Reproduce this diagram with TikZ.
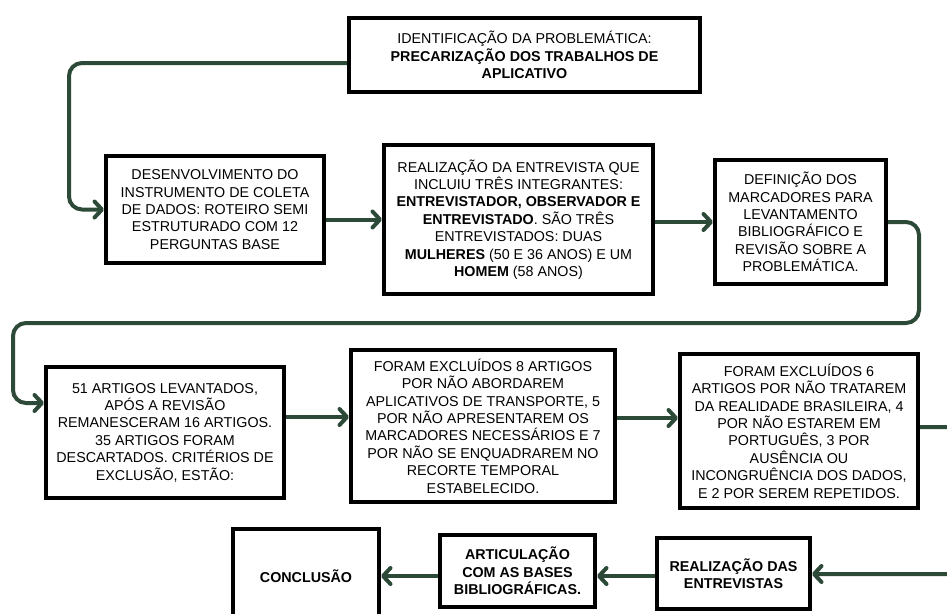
\documentclass[tikz,border=0pt]{standalone}
\usepackage{fontspec}
\setmainfont{Liberation Sans}
\usetikzlibrary{arrows.meta,calc}
\definecolor{conng}{HTML}{2D4A39}
\begin{document}
\begin{tikzpicture}[x=1pt,y=-1pt,
  box/.style={draw=black,line width=4pt,fill=white,align=center,inner sep=0pt,
    font=\fontsize{14.3}{17.4}\selectfont},
  conn/.style={draw=conng,line width=4pt,rounded corners=13pt,
    -{Straight Barb[length=7.5pt,width=16pt,line cap=round,line join=round]}}]
\useasboundingbox (0,0) rectangle (947,613);
\fill[white] (0,0) rectangle (947,613);

\node[box,minimum width=351pt,minimum height=74pt] (top) at (524.5,55)
  {IDENTIFICAÇÃO DA PROBLEMÁTICA:\\ \textbf{PRECARIZAÇÃO DOS TRABALHOS DE}\\ \textbf{APLICATIVO}};

\node[box,minimum width=218pt,minimum height=107pt] (b2) at (215,209.5)
  {DESENVOLVIMENTO DO\\ INSTRUMENTO DE COLETA\\ DE DADOS: ROTEIRO SEMI\\ ESTRUTURADO COM 12\\ PERGUNTAS BASE};

\node[box,minimum width=269pt,minimum height=149pt] (b3) at (518.5,219.5)
  {REALIZAÇÃO DA ENTREVISTA QUE\\ INCLUIU TRÊS INTEGRANTES:\\ \textbf{ENTREVISTADOR, OBSERVADOR E}\\ \textbf{ENTREVISTADO}. SÃO TRÊS\\ ENTREVISTADOS: DUAS\\ \textbf{MULHERES} (50 E 36 ANOS) E UM\\ \textbf{HOMEM} (58 ANOS)};

\node[box,minimum width=171pt,minimum height=124pt] (b4) at (800.5,222)
  {DEFINIÇÃO DOS\\ MARCADORES PARA\\ LEVANTAMENTO\\ BIBLIOGRÁFICO E\\ REVISÃO SOBRE A\\ PROBLEMÁTICA.};

\node[box,minimum width=238pt,minimum height=131pt] (b5) at (165,432.5)
  {51 ARTIGOS LEVANTADOS,\\ APÓS A REVISÃO\\ REMANESCERAM 16 ARTIGOS.\\ 35 ARTIGOS FORAM\\ DESCARTADOS. CRITÉRIOS DE\\ EXCLUSÃO, ESTÃO:};

\node[box,minimum width=264pt,minimum height=152pt] (b6) at (483,426)
  {FORAM EXCLUÍDOS 8 ARTIGOS\\ POR NÃO ABORDAREM\\ APLICATIVOS DE TRANSPORTE, 5\\ POR NÃO APRESENTAREM OS\\ MARCADORES NECESSÁRIOS E 7\\ POR NÃO SE ENQUADRAREM NO\\ RECORTE TEMPORAL\\ ESTABELECIDO.};

\node[box,minimum width=238pt,minimum height=154pt] (b7) at (799,431)
  {FORAM EXCLUÍDOS 6\\ ARTIGOS POR NÃO TRATAREM\\ DA REALIDADE BRASILEIRA, 4\\ POR NÃO ESTAREM EM\\ PORTUGUÊS, 3 POR\\ AUSÊNCIA OU\\ INCONGRUÊNCIA DOS DADOS,\\ E 2 POR SEREM REPETIDOS.};

\node[box,minimum width=153pt,minimum height=71pt] (b8) at (733.5,573.5)
  {\textbf{REALIZAÇÃO DAS}\\ \textbf{ENTREVISTAS}};

\node[box,minimum width=155pt,minimum height=72pt] (b9) at (517.5,571)
  {\textbf{ARTICULAÇÃO}\\ \textbf{COM AS BASES}\\ \textbf{BIBLIOGRÁFICAS.}};

\node[box,minimum width=146pt,minimum height=94pt] (b10) at (306,576)
  {\textbf{CONCLUSÃO}};

\coordinate (k1) at (69,209.5);
\coordinate (k2) at (919,323);
\coordinate (k3) at (13,323);
\coordinate (k4) at (960,574);

\draw[conn] ($(top.west)+(0,8)$) -| (k1) -- (b2.west);
\draw[conn] (b2.east |- b3.west) -- (b3.west);
\draw[conn] (b3.east |- b4.west) -- (b4.west);
\draw[conn] (b4.east) -| (k2) -- (k3) |- ($(b5.west)+(0,-29.5)$);
\draw[conn] (b5.east |- 0,417) -- (b6.west |- 0,417);
\draw[conn] (b6.east |- 0,418) -- (b7.west |- 0,418);
\draw[conn] (b7.east |- 0,427) -| (k4) -- (b8.east |- k4);
\draw[conn] (b8.west |- 0,576) -- (b9.east |- 0,576);
\draw[conn] (b9.west |- 0,576) -- (b10.east |- 0,576);
\end{tikzpicture}
\end{document}
